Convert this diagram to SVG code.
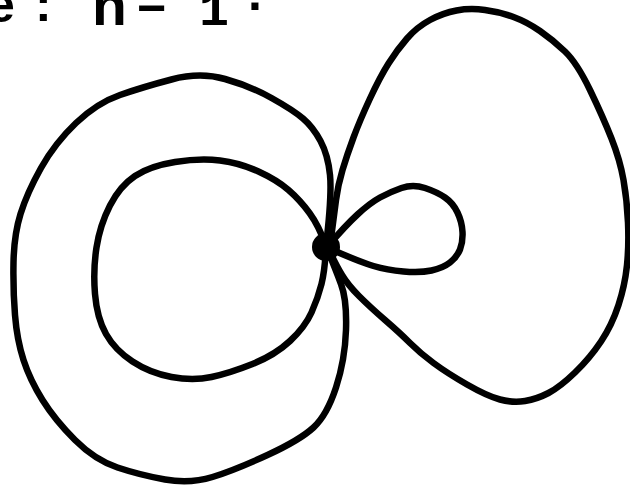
<svg xmlns="http://www.w3.org/2000/svg" width="630" height="487" viewBox="0 0 630 487">
<style>
.loop{fill:none;stroke:#000;stroke-width:6.5;stroke-linecap:round;stroke-linejoin:round}
.t{font-family:"Liberation Sans",Arial,sans-serif;font-weight:bold;font-size:50px;fill:#000}
.m{font-family:"Liberation Mono","Courier New",monospace;font-weight:bold;font-size:50px;fill:#000}
</style>
<rect width="630" height="487" fill="#fff"/>
<g id="label">
<text class="t" x="-13" y="22">e</text>
<text class="t" x="35" y="21">:</text>
<text class="t" x="92" y="25" style="font-size:57px">n</text>
<text class="t" x="137" y="19">=</text>
<text class="m" x="199" y="25">1</text>
<text class="t" x="248" y="10">.</text>
</g>
<g id="connectors">
<path id="outer-left" class="loop" d="M326,246 Q332,195 330,175 Q328,155 320.5,141 Q313,127 303,118.5 Q293,110 271.5,98 Q250,86 225,79 Q200,72 171.5,79.5 Q143,87 120,95 Q97,103 76,123 Q55,143 41,168 Q27,193 20.5,214 Q14,235 13.5,262.5 Q13,290 15,315 Q17,340 23.5,360 Q30,380 42.5,400 Q55,420 75,440 Q95,460 117.5,467.5 Q140,475 165,479.5 Q190,484 212.5,477 Q235,470 267.5,455 Q300,440 313.5,427.5 Q327,415 336,387.5 Q345,360 346,330 Q347,300 341,284 Q335,268 326,246"/>
<path id="inner-left" class="loop" d="M326,246 Q319,226 309.5,213 Q300,200 288.5,190 Q277,180 258.5,171.5 Q240,163 220,160.5 Q200,158 175,162 Q150,166 135,176 Q120,186 110,205.5 Q100,225 96.5,247.5 Q93,270 95,294 Q97,318 106,334 Q115,350 132.5,361.5 Q150,373 171.5,377 Q193,381 211.5,377 Q230,373 252.5,364 Q275,355 290,341 Q305,327 311.5,312.5 Q318,298 321.5,284 Q325,270 326,246"/>
<path id="right-big" class="loop" d="M330,246 Q334,215 336,200 Q338,185 342.5,170 Q347,155 353.5,137.5 Q360,120 370,98.5 Q380,77 388.5,63.5 Q397,50 407,38.5 Q417,27 430,20 Q443,13 456.5,10.5 Q470,8 485,10 Q500,12 513.5,17 Q527,22 540,31 Q553,40 565,51.5 Q577,63 590,90 Q603,117 611.5,138.5 Q620,160 623.5,180 Q627,200 628,222.5 Q629,245 627,265 Q625,285 618.5,305 Q612,325 601,341.5 Q590,358 575,372.5 Q560,387 548.5,393 Q537,399 525,401 Q513,403 500,399.5 Q487,396 467,384.5 Q447,373 433.5,363 Q420,353 410,343 Q400,333 385,320 Q370,307 359,296 Q348,285 342,275 Q336,265 328,248"/>
<path id="right-small" class="loop" d="M328,246 Q345,226 357.5,214.5 Q370,203 380,197.5 Q390,192 401.5,188 Q413,184 425,188 Q437,192 445,197.5 Q453,203 457.5,212.5 Q462,222 462.5,232 Q463,242 460,249.5 Q457,257 450,262.5 Q443,268 431.5,270.5 Q420,273 403.5,271.5 Q387,270 373.5,266 Q360,262 328,248"/>
</g>
<g id="vertex">
<circle cx="326" cy="247" r="14" fill="#000"/>
</g>
</svg>
